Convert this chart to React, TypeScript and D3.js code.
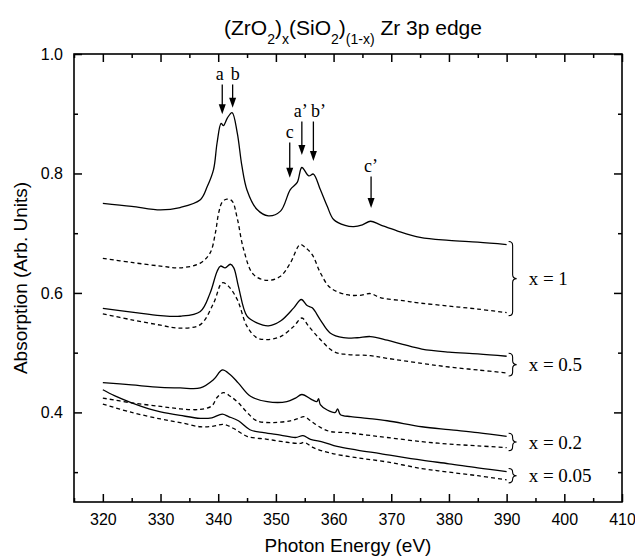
import { useEffect, useRef } from 'react';
import * as d3 from 'd3';

const WIDTH = 635;
const HEIGHT = 557;
const MARGIN = { top: 54, right: 13, bottom: 55, left: 74 };

const xMajorTicks = [320, 330, 340, 350, 360, 370, 380, 390, 400, 410];
const xMinorTicks = [315, 325, 335, 345, 355, 365, 375, 385, 395, 405];
const yMajorTicks = [0.4, 0.6, 0.8, 1.0];
const yMinorTicks = [0.3, 0.5, 0.7, 0.9];

// x = 1
const x100Solid: [number, number][] = [
  [320, 0.750], [325, 0.745], [330, 0.739], [333.4, 0.743], [336.9, 0.756], [338.1, 0.778],
  [339.2, 0.807], [339.8, 0.851], [340.5, 0.884], [340.9, 0.880], [341.6, 0.893], [342.4, 0.902],
  [343.3, 0.868], [344.1, 0.813], [345.0, 0.772], [346.7, 0.740], [348.7, 0.729], [350.8, 0.737],
  [352.5, 0.773], [353.7, 0.785], [354.5, 0.810], [355.7, 0.796], [356.5, 0.799], [357.7, 0.773],
  [358.9, 0.745], [360.0, 0.723], [362, 0.713], [363.5, 0.711], [365, 0.714], [366.4, 0.720],
  [368.1, 0.714], [371, 0.704], [375, 0.693], [380, 0.688], [385, 0.685], [390, 0.681],
];
const x100Dashed: [number, number][] = [
  [320, 0.658], [325, 0.651], [330, 0.645], [333.4, 0.642], [336.9, 0.650], [338.6, 0.667],
  [339.5, 0.700], [340.1, 0.735], [340.7, 0.752], [341.5, 0.757], [342.4, 0.754], [343.3, 0.725],
  [344.4, 0.673], [346.1, 0.631], [348.5, 0.621], [350.8, 0.628], [352.5, 0.650], [354.2, 0.681],
  [355.1, 0.676], [356.3, 0.664], [357.7, 0.634], [359.4, 0.609], [362.3, 0.597], [364.5, 0.596],
  [366.4, 0.599], [368.1, 0.592], [372, 0.587], [375, 0.583], [380, 0.578], [385, 0.573], [390, 0.567],
];
// x = 0.5
const x50Solid: [number, number][] = [
  [320, 0.574], [325, 0.568], [330, 0.562], [333.4, 0.561], [336.9, 0.569], [338.6, 0.600],
  [339.8, 0.636], [340.4, 0.645], [341.2, 0.642], [342.1, 0.648], [342.7, 0.642], [343.5, 0.611],
  [345.0, 0.561], [346.7, 0.550], [348.7, 0.545], [350.8, 0.553], [353.1, 0.575], [354.4, 0.589],
  [355.4, 0.579], [356.3, 0.575], [357.7, 0.555], [359.4, 0.533], [361.7, 0.525], [364.1, 0.525],
  [366.4, 0.527], [369.3, 0.521], [372, 0.514], [375.3, 0.506], [380, 0.501], [385, 0.498], [390, 0.494],
];
const x50Dashed: [number, number][] = [
  [320, 0.565], [325, 0.555], [330, 0.546], [333.4, 0.541], [336.9, 0.547], [339.2, 0.583],
  [340.7, 0.617], [341.8, 0.611], [343.3, 0.589], [345.0, 0.544], [346.7, 0.525], [348.5, 0.522],
  [350.8, 0.527], [353.1, 0.544], [354.5, 0.558], [355.7, 0.544], [357.7, 0.522], [360.0, 0.502],
  [362.3, 0.497], [366.4, 0.495], [369, 0.491], [375.3, 0.482], [380, 0.476], [385, 0.471], [390, 0.466],
];
// x = 0.2
const x20Solid: [number, number][] = [
  [320, 0.450], [325, 0.446], [330, 0.442], [333.4, 0.441], [336.9, 0.441], [339.2, 0.455],
  [340.7, 0.471], [342.1, 0.463], [343.5, 0.449], [345.6, 0.427], [348.5, 0.418], [351.9, 0.418],
  [353.4, 0.424], [354.5, 0.430], [356.3, 0.421], [357.1, 0.418], [357.4, 0.423], [357.7, 0.413],
  [358.9, 0.404], [360.3, 0.400], [360.7, 0.406], [361.2, 0.396], [363, 0.393], [365.8, 0.390],
  [369.3, 0.386], [375.3, 0.376], [380, 0.371], [385, 0.366], [390, 0.360],
];
const x20Dashed: [number, number][] = [
  [320, 0.424], [325, 0.416], [330, 0.410], [333.4, 0.406], [336.9, 0.405], [338.9, 0.411],
  [339.8, 0.425], [340.9, 0.433], [342.1, 0.427], [343.5, 0.416], [345.0, 0.400], [346.7, 0.386],
  [349.6, 0.383], [352.5, 0.386], [353.9, 0.390], [354.9, 0.393], [356.0, 0.386], [357.7, 0.375],
  [359.4, 0.368], [362.3, 0.366], [365.8, 0.362], [369.3, 0.358], [375.3, 0.351], [380, 0.347],
  [385, 0.344], [390, 0.341],
];
// x = 0.05
const x05Solid: [number, number][] = [
  [320, 0.438], [322, 0.428], [325, 0.416], [328, 0.406], [330, 0.401], [333.4, 0.395],
  [336.9, 0.390], [338.9, 0.391], [340.7, 0.397], [341.8, 0.393], [343.5, 0.386], [345.5, 0.371],
  [347.9, 0.366], [350.8, 0.362], [353.4, 0.358], [354.7, 0.361], [356.0, 0.355], [358.3, 0.350],
  [360.6, 0.343], [364.1, 0.337], [368.1, 0.331], [375.3, 0.320], [380, 0.314], [385, 0.307], [390, 0.301],
];
const x05Dashed: [number, number][] = [
  [320, 0.414], [325, 0.400], [330, 0.389], [333.4, 0.383], [336.9, 0.376], [339.2, 0.377],
  [340.9, 0.380], [342.7, 0.373], [345.0, 0.360], [348.5, 0.355], [351.9, 0.350], [354.2, 0.348],
  [354.9, 0.350], [356.5, 0.341], [359.4, 0.332], [364.1, 0.324], [369.3, 0.317], [375.3, 0.306],
  [380, 0.300], [385, 0.294], [390, 0.287],
];

const groups = [
  { label: 'x = 1', solid: x100Solid, dashed: x100Dashed },
  { label: 'x = 0.5', solid: x50Solid, dashed: x50Dashed },
  { label: 'x = 0.2', solid: x20Solid, dashed: x20Dashed },
  { label: 'x = 0.05', solid: x05Solid, dashed: x05Dashed },
];

// peak markers: energy, arrow tip and tail (absorption units)
const peakLabels = ['a', 'b', 'c', 'a\u2019', 'b\u2019', 'c\u2019'];
const peakEnergies = [340.7, 342.5, 352.4, 354.5, 356.5, 366.5];
const peakTips = [0.899, 0.910, 0.793, 0.831, 0.821, 0.742];
const peakTails = [0.949, 0.949, 0.852, 0.887, 0.887, 0.795];

// small horizontal nudges so neighbouring letters don't collide
const labelNudge: Record<string, number> = { 'a': -2.5, 'b': 2.5, 'a\u2019': -1, 'b\u2019': 5 };

function bracePath(x: number, y1: number, y2: number, w: number) {
  const mid = (y1 + y2) / 2;
  const r = Math.min(4, (y2 - y1) / 4);
  const xm = x + w / 2;
  return `M${x},${y1} Q${xm},${y1} ${xm},${y1 + r} L${xm},${mid - r} Q${xm},${mid} ${x + w},${mid} ` +
    `Q${xm},${mid} ${xm},${mid + r} L${xm},${y2 - r} Q${xm},${y2} ${x},${y2}`;
}

const SERIF = '"Liberation Serif", "Times New Roman", serif';
const SANS = '"Liberation Sans", Arial, sans-serif';

const App = () => {
  const axesRef = useRef<SVGGElement>(null);

  const xScale = d3.scaleLinear().domain([315, 410]).range([MARGIN.left, WIDTH - MARGIN.right]);
  const yScale = d3.scaleLinear().domain([0.25, 1.0]).range([HEIGHT - MARGIN.bottom, MARGIN.top]);

  const line = d3.line<[number, number]>()
    .x(d => xScale(d[0]))
    .y(d => yScale(d[1]))
    .curve(d3.curveCatmullRom.alpha(0.5));

  useEffect(() => {
    const g = d3.select(axesRef.current);
    g.selectAll('*').remove();
    const y0 = HEIGHT - MARGIN.bottom;
    const x1 = WIDTH - MARGIN.right;

    const fmtX = d3.format('d');
    const fmtY = d3.format('.1f');

    g.append('g').attr('transform', `translate(0,${y0})`)
      .call(d3.axisBottom(xScale).tickValues(xMajorTicks).tickSize(-8).tickSizeOuter(0).tickPadding(12).tickFormat(d => fmtX(d as number)));
    g.append('g').attr('transform', `translate(0,${y0})`)
      .call(d3.axisBottom(xScale).tickValues(xMinorTicks).tickSize(-4).tickSizeOuter(0).tickFormat(() => ''));
    g.append('g').attr('transform', `translate(0,${MARGIN.top})`)
      .call(d3.axisTop(xScale).tickValues(xMajorTicks).tickSize(-8).tickSizeOuter(0).tickFormat(() => ''));
    g.append('g').attr('transform', `translate(0,${MARGIN.top})`)
      .call(d3.axisTop(xScale).tickValues(xMinorTicks).tickSize(-4).tickSizeOuter(0).tickFormat(() => ''));

    g.append('g').attr('transform', `translate(${MARGIN.left},0)`)
      .call(d3.axisLeft(yScale).tickValues(yMajorTicks).tickSize(-8).tickSizeOuter(0).tickPadding(11).tickFormat(d => fmtY(d as number)));
    g.append('g').attr('transform', `translate(${MARGIN.left},0)`)
      .call(d3.axisLeft(yScale).tickValues(yMinorTicks).tickSize(-4).tickSizeOuter(0).tickFormat(() => ''));
    g.append('g').attr('transform', `translate(${x1},0)`)
      .call(d3.axisRight(yScale).tickValues(yMajorTicks).tickSize(-8).tickSizeOuter(0).tickFormat(() => ''));
    g.append('g').attr('transform', `translate(${x1},0)`)
      .call(d3.axisRight(yScale).tickValues(yMinorTicks).tickSize(-4).tickSizeOuter(0).tickFormat(() => ''));

    g.selectAll('.domain').remove();
    g.selectAll('.tick line').attr('stroke', '#000').attr('stroke-width', 1.5);
    g.selectAll('.tick text')
      .attr('fill', '#000')
      .attr('font-family', SANS)
      .attr('font-size', 16);
  }, []);

  const braceX = xScale(390) + 2;

  return (
    <svg width={WIDTH} height={HEIGHT} style={{ position: 'absolute', left: 0, top: 0, background: '#fff' }}>
      <rect x={0} y={0} width={WIDTH} height={HEIGHT} fill="#fff" />
      <text x={353} y={34.5} textAnchor="middle" fontFamily={SANS} fontSize={21}>
        (ZrO<tspan fontSize={14} dy={9}>2</tspan><tspan dy={-9}>)</tspan>
        <tspan fontSize={14} dy={9}>x</tspan><tspan dy={-9}>(SiO</tspan>
        <tspan fontSize={14} dy={9}>2</tspan><tspan dy={-9}>)</tspan>
        <tspan fontSize={14} dy={9}>(1-x)</tspan><tspan dy={-9}> Zr 3p edge</tspan>
      </text>

      {groups.map(gr => {
        const yTop = yScale(gr.solid[gr.solid.length - 1][1]);
        const yBot = yScale(gr.dashed[gr.dashed.length - 1][1]);
        return (
          <g key={gr.label}>
            <path d={line(gr.solid) || ''} fill="none" stroke="#000" strokeWidth={1.3} />
            <path d={line(gr.dashed) || ''} fill="none" stroke="#000" strokeWidth={1.3} strokeDasharray="4,3" />
            <path d={bracePath(braceX, yTop - 3, yBot + 3, 8)} fill="none" stroke="#000" strokeWidth={1.1} />
            <text x={braceX + 20} y={(yTop + yBot) / 2} dy="0.35em" fontFamily={SERIF} fontSize={19}>{gr.label}</text>
          </g>
        );
      })}

      {peakLabels.map((lab, i) => {
        const px = xScale(peakEnergies[i]);
        const tip = yScale(peakTips[i]);
        const tail = yScale(peakTails[i]);
        return (
          <g key={lab}>
            <line x1={px} x2={px} y1={tail} y2={tip - 8} stroke="#000" strokeWidth={1.3} />
            <path d={`M${px - 3.5},${tip - 10} L${px + 3.5},${tip - 10} L${px},${tip} Z`} fill="#000" />
            <text x={px + (labelNudge[lab] || 0)} y={tail - 4} textAnchor="middle" fontFamily={SERIF} fontSize={18}>{lab}</text>
          </g>
        );
      })}

      <rect
        x={MARGIN.left} y={MARGIN.top}
        width={WIDTH - MARGIN.left - MARGIN.right} height={HEIGHT - MARGIN.top - MARGIN.bottom}
        fill="none" stroke="#000" strokeWidth={1.6}
      />
      <g ref={axesRef} />

      <text x={(MARGIN.left + WIDTH - MARGIN.right) / 2} y={552} textAnchor="middle"
        fontFamily={SANS} fontSize={19}>Photon Energy (eV)</text>
      <text transform={`translate(27,${(MARGIN.top + HEIGHT - MARGIN.bottom) / 2}) rotate(-90)`} textAnchor="middle"
        fontFamily={SANS} fontSize={19}>Absorption (Arb. Units)</text>
    </svg>
  );
};

export default App;
